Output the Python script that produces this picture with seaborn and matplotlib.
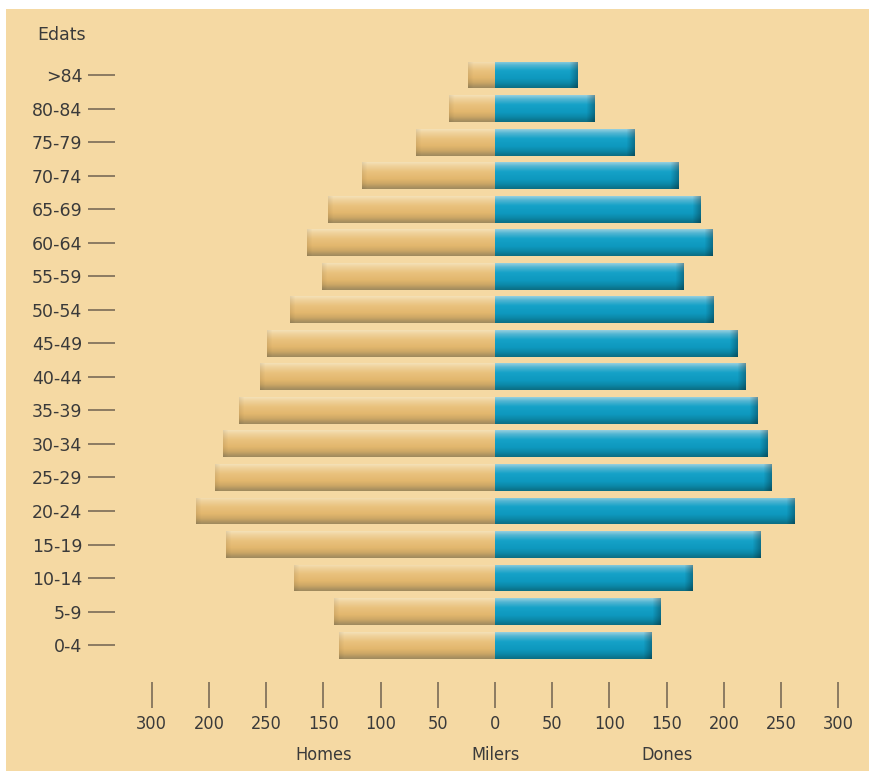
import numpy as np
import pandas as pd
import matplotlib
matplotlib.use("Agg")
import matplotlib.pyplot as plt
import matplotlib.transforms as mtransforms
from matplotlib.colors import LinearSegmentedColormap
from matplotlib.patches import Rectangle
import seaborn as sns

# ---- data (thousands) ----
ages = [">84", "80-84", "75-79", "70-74", "65-69", "60-64", "55-59", "50-54",
        "45-49", "40-44", "35-39", "30-34", "25-29", "20-24", "15-19",
        "10-14", "5-9", "0-4"]
homes = [24, 40, 69, 116, 146, 164, 151, 179, 199, 205, 224, 238, 245, 261,
         235, 176, 141, 136]
dones = [72, 87, 122, 160, 180, 190, 165, 191, 212, 219, 229, 238, 242, 262,
         232, 173, 145, 137]
tick_values = [-300, -250, -200, -150, -100, -50, 0, 50, 100, 150, 200, 250, 300]
tick_labels = ["300", "200", "250", "150", "100", "50", "0", "50", "100",
               "150", "200", "250", "300"]
sex_labels = ["Homes", "Milers", "Dones"]
y_title = "Edats"

BG = "#F5D9A3"
TXT = "#3a3a3a"
TICKC = "#6f6250"

sns.set_theme(style="white")
plt.rcParams["font.family"] = ["DejaVu Sans"]

W, H = 869, 771
fig = plt.figure(figsize=(W / 100, H / 100), dpi=100, facecolor="white")
fig.patches.append(Rectangle((6 / W, 0), 1 - 6 / W, 1 - 9 / H,
                             transform=fig.transFigure, facecolor=BG,
                             edgecolor="none", zorder=-10))

ax = fig.add_axes([115 / W, 89 / H, 1 - 115 / W, (721 - 89) / H])
ax.set_facecolor("none")

df = pd.DataFrame({
    "age": ages * 2,
    "value": [-v for v in homes] + dones,
    "sex": ["Homes"] * len(ages) + ["Dones"] * len(ages),
})
sns.barplot(data=df, x="value", y="age", hue="sex", order=ages,
            palette={"Homes": "#E6BC72", "Dones": "#12A0C4"},
            dodge=False, width=0.8, legend=False, ax=ax, linewidth=0)

xlim = (-332.1, 326.8)
ylim = (18.1, -0.746)
ax.set_xlim(*xlim)
ax.set_ylim(*ylim)

men_cmap = LinearSegmentedColormap.from_list("men", [
    (0.0, "#F4E0B6"), (0.12, "#F0D39E"), (0.35, "#E9C27E"),
    (0.62, "#E3B76E"), (0.80, "#CDA866"), (1.0, "#A08A5E")])
wom_cmap = LinearSegmentedColormap.from_list("wom", [
    (0.0, "#93CFDF"), (0.14, "#52B5D2"), (0.35, "#15A2C8"),
    (0.65, "#0E98BE"), (0.82, "#0C88A8"), (1.0, "#0B6E84")])

px_per_unit = (838 - 152) / 600.0
for p in list(ax.patches):
    x0 = p.get_x()
    w = p.get_width()
    y0 = p.get_y()
    h = p.get_height()
    if abs(w) < 1e-9:
        continue
    left, right = min(x0, x0 + w), max(x0, x0 + w)
    n_cols = max(int(abs(w) * px_per_unit), 4)
    rows = np.linspace(0, 1, 40)
    cmap = men_cmap if w < 0 else wom_cmap
    col = cmap(rows)[:, :3]
    img = np.repeat(col[:, None, :], n_cols, axis=1)
    fac = np.ones(n_cols)
    if w > 0:
        k = min(9, n_cols)
        fac[-k:] = np.linspace(1.0, 0.72, k)
    else:
        k = min(6, n_cols)
        fac[:k] = np.linspace(0.93, 1.0, k)
    img = img * fac[None, :, None]
    p.set_facecolor("none")
    im = ax.imshow(np.clip(img, 0, 1), extent=(left, right, y0 + h, y0),
                   aspect="auto", interpolation="bilinear", zorder=2)
    im.set_clip_path(p)

ax.set_xlim(*xlim)
ax.set_ylim(*ylim)

for s in ax.spines.values():
    s.set_visible(False)
ax.set_xlabel("")
ax.set_ylabel("")
ax.set_xticks(tick_values)
ax.set_xticklabels(tick_labels)
ax.tick_params(axis="x", direction="out", length=19, width=1.1, color=TICKC,
               pad=5, labelsize=13, labelcolor=TXT, bottom=True)
ax.tick_params(axis="y", direction="out", length=19.5, width=1.1, color=TICKC,
               pad=4, labelsize=12.5, labelcolor=TXT, left=True)
for lab in ax.get_xticklabels():
    lab.set_fontfamily(["DejaVu Sans"])
    lab.set_fontstretch("condensed")

fig.text(37 / W, 1 - 35 / H, y_title, ha="left", va="center",
         fontsize=12.5, color=TXT)

trans = mtransforms.blended_transform_factory(ax.transData, fig.transFigure)
for xv, lab in zip([-150, 0, 150], sex_labels):
    ax.text(xv, 1 - 755 / H, lab, transform=trans, ha="center", va="center",
            fontsize=13, color=TXT, fontfamily=["DejaVu Sans"],
            fontstretch="condensed")

fig.savefig("out.png", dpi=100, facecolor="white")
